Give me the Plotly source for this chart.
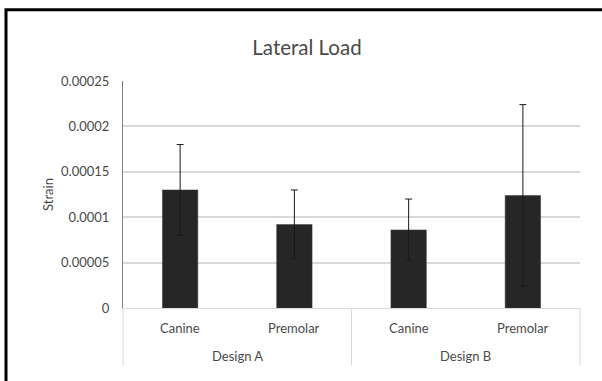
import plotly.graph_objects as go

groups = ["Design A", "Design A", "Design B", "Design B"]
teeth = ["Canine", "Premolar", "Canine", "Premolar"]
group_names = ["Design A", "Design B"]
strain = [0.000130, 0.000092, 0.000086, 0.000124]
strain_err = [0.000050, 0.000038, 0.000034, 0.000100]
y_ticks = [0, 0.00005, 0.0001, 0.00015, 0.0002, 0.00025]
y_tick_text = ["0", "0.00005", "0.0001", "0.00015", "0.0002", "0.00025"]

FONT = "Lato, 'Open Sans', sans-serif"
TXT = "#4a4a4a"
PLOT_H = 226.6

fig = go.Figure()
fig.add_trace(go.Bar(
    x=[groups, teeth],
    y=strain,
    marker=dict(color="#262626", line=dict(color="#3a3a3a", width=0.5)),
    error_y=dict(type="data", array=strain_err, visible=True,
                 color="#1a1a1a", thickness=1, width=3.5),
))

fig.update_layout(
    width=602, height=381,
    margin=dict(l=123, r=22, t=81, b=73),
    paper_bgcolor="white", plot_bgcolor="white",
    bargap=0.69,
    showlegend=False,
    font=dict(family=FONT, size=13, color=TXT),
    title=dict(text="Lateral Load", x=307 / 602, xref="container",
               xanchor="center",
               y=1 - 48 / 381, yanchor="middle",
               font=dict(family=FONT, size=20.5, color=TXT)),
    xaxis=dict(
        type="multicategory",
        showgrid=False, zeroline=False,
        showline=True, linecolor="#d9d9d9", linewidth=1,
        showdividers=False, showticklabels=False, ticks="",
    ),
    yaxis=dict(
        range=[0, 0.00025],
        tickvals=y_ticks, ticktext=y_tick_text,
        showgrid=True, gridcolor="#d9d9d9", gridwidth=1.5,
        zeroline=False,
        showline=True, linecolor="#7f7f7f", linewidth=1,
        ticks="", ticklabelstandoff=10,
        tickfont=dict(family=FONT, size=13, color=TXT),
        title=dict(text="Strain", standoff=4,
                   font=dict(family=FONT, size=13, color=TXT)),
    ),
)

n = len(teeth)
# inner category labels
for i, t in enumerate(teeth):
    fig.add_annotation(text=t, xref="paper", yref="paper",
                       x=(i + 0.5) / n, y=-(328 - 307.6) / PLOT_H,
                       showarrow=False, xanchor="center", yanchor="middle",
                       font=dict(family=FONT, size=13, color=TXT))
# outer group labels
ng = len(group_names)
for j, g in enumerate(group_names):
    fig.add_annotation(text=g, xref="paper", yref="paper",
                       x=(j + 0.5) / ng, y=-(355.7 - 307.6) / PLOT_H,
                       showarrow=False, xanchor="center", yanchor="middle",
                       font=dict(family=FONT, size=13, color=TXT))
# group dividers
for k in range(ng + 1):
    fig.add_shape(type="line", xref="paper", yref="paper",
                  x0=k / ng, x1=k / ng, y0=0, y1=-(365 - 307.6) / PLOT_H,
                  line=dict(color="#d9d9d9", width=1))

# outer chart frame (top and left edges visible in reference)
fig.add_shape(type="rect", xref="paper", yref="paper",
              x0=(6 - 123) / 457, x1=1.2,
              y0=-0.5, y1=(307.6 - 10) / PLOT_H,
              line=dict(color="black", width=3), layer="above")

fig.write_html("out.html", config={"displayModeBar": False},
               post_script="document.body.style.margin='0';document.body.style.padding='0';")
